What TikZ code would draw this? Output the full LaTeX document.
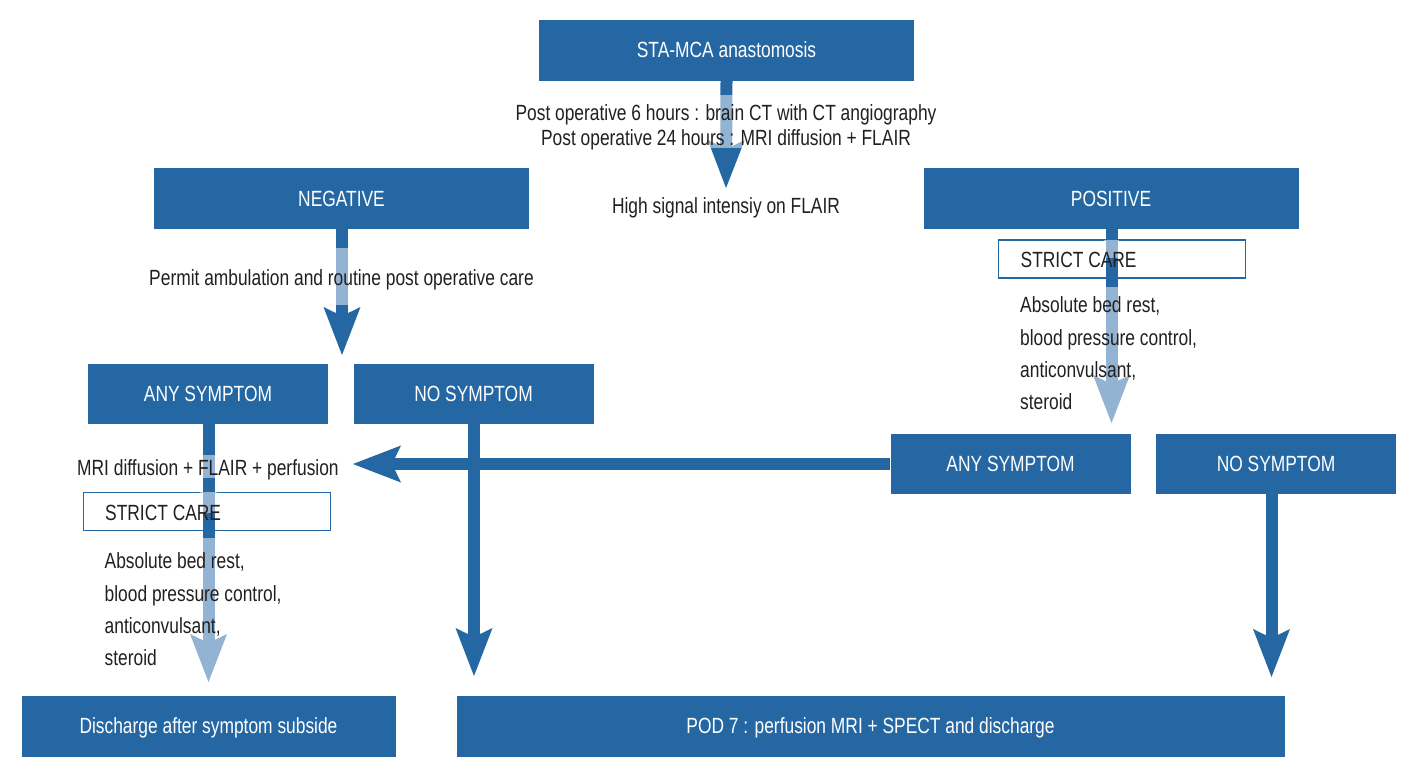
\documentclass[tikz,border=0pt]{standalone}
\usepackage{fontspec}
\setmainfont{Liberation Sans}[FakeStretch=0.79]
\usetikzlibrary{arrows.meta}
\definecolor{dblue}{HTML}{2567A3}
\definecolor{txt}{HTML}{231F20}
\tikzset{
  box/.style={fill=dblue, text=white, inner sep=0pt, text height=15.7pt, text depth=0pt},
  scbox/.style={draw=dblue, line width=1.5pt, fill=white, inner sep=0pt},
  arr/.style={draw=dblue, line width=12pt, -{Stealth[length=48pt,width=37pt,inset=9pt,line width=0pt]}},
  lite/.style={fill=white, fill opacity=0.5},
  lbl/.style={text=txt, inner sep=0pt}
}
\begin{document}
\begin{tikzpicture}[x=1pt,y=-1pt,font=\fontsize{22}{26}\selectfont]
\useasboundingbox (0,0) rectangle (1420,779);
% boxes
\node[box, minimum width=375pt, minimum height=61pt] (sta) at (726.5,50) {STA-MCA anastomosis};
\node[box, minimum width=375pt, minimum height=61pt] (neg) at (341.5,198.5) {NEGATIVE};
\node[box, minimum width=375pt, minimum height=61pt] (pos) at (1111,198.5) {POSITIVE};
\node[box, minimum width=240pt, minimum height=60pt] (anyL) at (208,394) {ANY SYMPTOM};
\node[box, minimum width=240pt, minimum height=60pt] (noL) at (473.5,394) {NO SYMPTOM};
\node[box, minimum width=240pt, minimum height=60pt] (anyR) at (1010.5,464) {ANY SYMPTOM};
\node[box, minimum width=240pt, minimum height=60pt] (noR) at (1276,464) {NO SYMPTOM};
\node[box, minimum width=374pt, minimum height=61pt] (dis) at (208.5,726) {Discharge after symptom subside};
\node[box, minimum width=828pt, minimum height=61pt] (pod) at (870.5,726) {POD 7 : perfusion MRI + SPECT and discharge};
% strict care boxes
\node[scbox, minimum width=247pt, minimum height=38pt] (scR) at (1122,259) {};
\node[scbox, minimum width=247pt, minimum height=38pt] (scL) at (207,511.5) {};
% tip coordinates
\coordinate (t1) at (726,188);
\coordinate (t2) at (342,355);
\coordinate (t3) at (1111.5,423);
\coordinate (t4) at (353,464);
\coordinate (t5) at (208.5,682);
\coordinate (t6) at (474,676);
\coordinate (t7) at (1271.5,677);
% arrows
\draw[arr] (sta.south) -- (t1);
\draw[arr] (neg.south -| t2) -- (t2);
\draw[arr] (pos.south -| t3) -- (t3);
\draw[arr] (anyR.west) -- (t4);
\draw[arr] (anyL.south -| t5) -- (t5);
\draw[arr] (noL.south -| t6) -- (t6);
\draw[arr] (noR.south -| t7) -- (t7);
% light overlays behind texts
\fill[lite] (700,95) rectangle (752,148);
\fill[lite] (318,248) rectangle (366,305);
\fill[lite] (1104,240) rectangle (1119,258);
\fill[lite] (1085,287) rectangle (1140,424);
\fill[lite] (200,455) rectangle (217,478);
\fill[lite] (200,492) rectangle (217,513);
\fill[lite] (185,538) rectangle (232,683);
% texts
\node[lbl, anchor=base] (l1) at (726,120) {Post operative 6 hours : brain CT with CT angiography};
\node[lbl, anchor=base] (l2) at (726,145) {Post operative 24 hours : MRI diffusion + FLAIR};
\node[lbl, anchor=base] (l3) at (726,213) {High signal intensiy on FLAIR};
\node[lbl, anchor=base] (l4) at (341.5,285) {Permit ambulation and routine post operative care};
\node[lbl, anchor=base west] (r0) at (1020.5,267.5) {STRICT CARE};
\node[lbl, anchor=base west] (r1) at (1020,312) {Absolute bed rest,};
\node[lbl, anchor=base west] (r2) at (1020,345) {blood pressure control,};
\node[lbl, anchor=base west] (r3) at (1020,377.5) {anticonvulsant,};
\node[lbl, anchor=base west] (r4) at (1020,409.5) {steroid};
\node[lbl, anchor=base west] (m0) at (77,475) {MRI diffusion + FLAIR + perfusion};
\node[lbl, anchor=base west] (s0) at (105,520) {STRICT CARE};
\node[lbl, anchor=base west] (s1) at (104.5,568.5) {Absolute bed rest,};
\node[lbl, anchor=base west] (s2) at (104.5,601) {blood pressure control,};
\node[lbl, anchor=base west] (s3) at (104.5,633.5) {anticonvulsant,};
\node[lbl, anchor=base west] (s4) at (104.5,665.5) {steroid};
\end{tikzpicture}
\end{document}
